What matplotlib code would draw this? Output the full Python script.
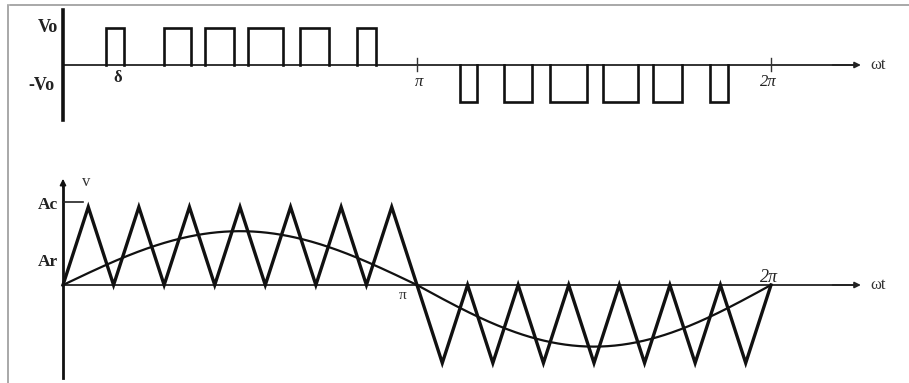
import numpy as np
import matplotlib
matplotlib.use("Agg")
import matplotlib.pyplot as plt
from matplotlib.lines import Line2D

# ---- data -------------------------------------------------------------
# gate pulses of the output (edges in units of pi)
pos_pulse_start = [0.121, 0.285, 0.401, 0.522, 0.669, 0.831]
pos_pulse_end   = [0.172, 0.362, 0.483, 0.621, 0.751, 0.884]
neg_pulse_start = [1.121, 1.246, 1.376, 1.525, 1.667, 1.828]
neg_pulse_end   = [1.169, 1.325, 1.480, 1.624, 1.748, 1.879]
Vo = 1.0

# carrier / reference
carrier_cycles_per_half = 7
Ac = 1.0
Ar_pos = 0.69
Ar_neg = 0.79
Ac_level = 1.06
Ar_level = 0.30

# ---- figure -----------------------------------------------------------
W, H = 909, 383
fig = plt.figure(figsize=(W / 100, H / 100), dpi=100)
fig.patch.set_facecolor("white")

px_per_rad = (771 - 63) / (2 * np.pi)
xlim = (-63 / px_per_rad, (W - 63) / px_per_rad)
label_x = -5 / px_per_rad

serif = ["Liberation Serif", "DejaVu Serif"]
ink = "#111111"

# top panel: rows 0..140 px, zero at 65 px, 37 px per unit
ax1 = fig.add_axes([0, (H - 140) / H, 1, 140 / H])
u1 = 37.0
ax1.set_xlim(*xlim)
ax1.set_ylim(-(140 - 65) / u1, 65 / u1)
ax1.axis("off")

# bottom panel: rows 150..383 px, zero at 285 px, 78 px per unit
ax2 = fig.add_axes([0, 0, 1, 233 / H])
u2 = 78.0
ax2.set_xlim(*xlim)
ax2.set_ylim(-(H - 285) / u2, (285 - 150) / u2)
ax2.axis("off")

# frame lines along top and left
fig.add_artist(Line2D([10 / W, 1], [1 - 5 / H, 1 - 5 / H], color="#9a9a9a", lw=1.2))
fig.add_artist(Line2D([8 / W, 8 / W], [0, 1 - 5 / H], color="#9a9a9a", lw=1.2))

xend = (858 - 63) / px_per_rad

# ---- top: pulse train --------------------------------------------------
ax1.plot([0, xend], [0, 0], color="#222222", lw=1.3)
ax1.annotate("", xy=(xend + 0.05, 0), xytext=(xend - 0.25, 0),
             arrowprops=dict(arrowstyle="-|>", color="#222222", lw=1.2,
                             mutation_scale=9))
ax1.plot([0, 0], [55 / u1, -55 / u1], color=ink, lw=2.6)

for s, e in zip(pos_pulse_start, pos_pulse_end):
    a, b = s * np.pi, e * np.pi
    ax1.plot([a, a, b, b], [0, Vo, Vo, 0], color=ink, lw=1.9,
             solid_joinstyle="miter")
for s, e in zip(neg_pulse_start, neg_pulse_end):
    a, b = s * np.pi, e * np.pi
    ax1.plot([a, a, b, b], [0, -Vo, -Vo, 0], color=ink, lw=1.9,
             solid_joinstyle="miter")

for xt in (np.pi, 2 * np.pi):
    ax1.plot([xt, xt], [0.18, -0.15], color="#333333", lw=1.0)

ax1.text(label_x, Vo, "Vo", ha="right", va="center", family=serif,
         fontweight="bold", fontsize=13, color="#222222")
ax1.text(label_x - 0.03, -Vo + 0.45, "-Vo", ha="right", va="center", family=serif,
         fontweight="bold", fontsize=13, color="#222222")
ax1.text(0.155 * np.pi, -0.36, "δ", ha="center", va="center", family=serif,
         fontweight="bold", fontsize=12, color="#222222")
ax1.text(np.pi + 0.02, -0.45, "π", ha="center", va="center", family=serif,
         style="italic", fontsize=12, color="#222222")
ax1.text(2 * np.pi - 0.02, -0.45, "2π", ha="center", va="center", family=serif,
         style="italic", fontsize=12, color="#222222")
ax1.text((870 - 63) / px_per_rad, 0, "ωt", ha="left", va="center",
         family=serif, fontsize=12, color="#333333")

# ---- bottom: carrier and reference ------------------------------------
ax2.plot([0, xend], [0, 0], color="#222222", lw=1.3)
ax2.annotate("", xy=(xend + 0.05, 0), xytext=(xend - 0.25, 0),
             arrowprops=dict(arrowstyle="-|>", color="#222222", lw=1.2,
                             mutation_scale=9))
ax2.plot([0, 0], [-(378 - 285) / u2, 100 / u2], color=ink, lw=2.0)
ax2.annotate("", xy=(0, (285 - 176) / u2), xytext=(0, 95 / u2),
             arrowprops=dict(arrowstyle="-|>", color=ink, lw=1.2,
                             mutation_scale=9))

# triangular carrier: rises 0 -> Ac in the positive half, 0 -> -Ac in the negative half
n = carrier_cycles_per_half
half_vertices = np.arange(2 * n + 1) * np.pi / (2 * n)
tri_pos = np.where(np.arange(2 * n + 1) % 2 == 1, Ac, 0.0)
tri_x = np.concatenate([half_vertices, np.pi + half_vertices[1:]])
tri_y = np.concatenate([tri_pos, -tri_pos[1:]])
ax2.plot(tri_x, tri_y, color=ink, lw=2.4, solid_joinstyle="miter")

# sinusoidal reference
th = np.linspace(0, 2 * np.pi, 400)
ref = np.where(th <= np.pi, Ar_pos, Ar_neg) * np.sin(th)
ax2.plot(th, ref, color=ink, lw=1.6)

# Ac marker
ax2.plot([0, 20 / px_per_rad], [Ac_level, Ac_level], color="#222222", lw=1.2)

ax2.text(label_x, Ac_level - 0.04, "Ac", ha="right", va="center", family=serif,
         fontweight="bold", fontsize=12.5, color="#222222")
ax2.text(label_x, Ar_level, "Ar", ha="right", va="center", family=serif,
         fontweight="bold", fontsize=12.5, color="#222222")
ax2.text(0.17, (285 - 182) / u2, "v", ha="left", va="center", family=serif,
         fontsize=12, color="#333333")
ax2.text(np.pi - 0.13, -0.14, "π", ha="center", va="center", family=serif,
         fontsize=11, color="#333333")
ax2.text(2 * np.pi - 0.02, 0.1, "2π", ha="center", va="center", family=serif,
         style="italic", fontsize=13, color="#222222")
ax2.text((870 - 63) / px_per_rad, 0, "ωt", ha="left", va="center",
         family=serif, fontsize=12, color="#333333")

fig.savefig("out.png", dpi=100, facecolor="white")
